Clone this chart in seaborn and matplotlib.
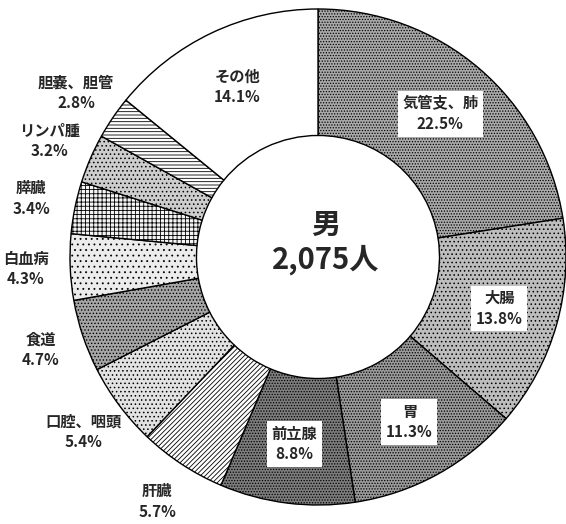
import numpy as np
import matplotlib
matplotlib.use('Agg')
import matplotlib.pyplot as plt
import seaborn as sns

# %% datos

sitios = ['気管支、肺', '大腸', '胃', '前立腺', '肝臓', '口腔、咽頭', '食道',
          '白血病', '膵臓', 'リンパ腫', '胆嚢、胆管', 'その他']
porcentajes = [22.5, 13.8, 11.3, 8.8, 5.7, 5.4, 4.7, 4.3, 3.4, 3.2, 2.8, 14.1]
dentro = [True, True, True, True, False, False, False, False, False, False, False, True]
total_txt = '男\n2,075人'

grises = ['#a9a9a9', '#bdbdbd', '#9a9a9a', '#7c7c7c', '#ffffff', '#e2e2e2',
          '#a6a6a6', '#ececec', '#f4f4f4', '#cdcdcd', '#ffffff', '#ffffff']
tramas = ['......', '....', '......', '......', '///////', '....',
          '.....', '...', '++++', '....', '-----', None]

# %% grafico

sns.set_theme(style='white')
plt.rcParams['font.family'] = ['Noto Sans CJK JP', 'DejaVu Sans']
plt.rcParams['hatch.linewidth'] = 0.6

fig = plt.figure(figsize=(5.66, 5.24), dpi=100)
ax = fig.add_axes([0, 0, 1, 1])

wedges, _ = ax.pie(porcentajes, radius=1.0, startangle=90, counterclock=False,
                   colors=grises, wedgeprops=dict(width=0.51, edgecolor='black', linewidth=1.0))
for w, h in zip(wedges, tramas):
    if h:
        w.set_hatch(h)

# etiquetas (dentro con caja blanca, fuera alrededor del anillo)
for w, nombre, p, d in zip(wedges, sitios, porcentajes, dentro):
    ang = np.deg2rad((w.theta1 + w.theta2) / 2)
    r = 0.76 if d else 1.18
    x, y = r * np.cos(ang), r * np.sin(ang)
    caja = dict(boxstyle='square,pad=0.3', fc='white', ec='none') if d and nombre != 'その他' else None
    ax.text(x, y, f'{nombre}\n{p}%', ha='center', va='center', fontsize=11,
            fontweight='bold', linespacing=1.35, bbox=caja)

ax.text(0.03, 0.06, total_txt, ha='center', va='center', fontsize=21,
        fontweight='bold', linespacing=1.2)

ax.set_xlim(-318 / 248, (566 - 318) / 248)
ax.set_ylim(-267 / 248, 257 / 248)
ax.set_aspect('equal')
ax.axis('off')

plt.savefig('out.png', dpi=100)
